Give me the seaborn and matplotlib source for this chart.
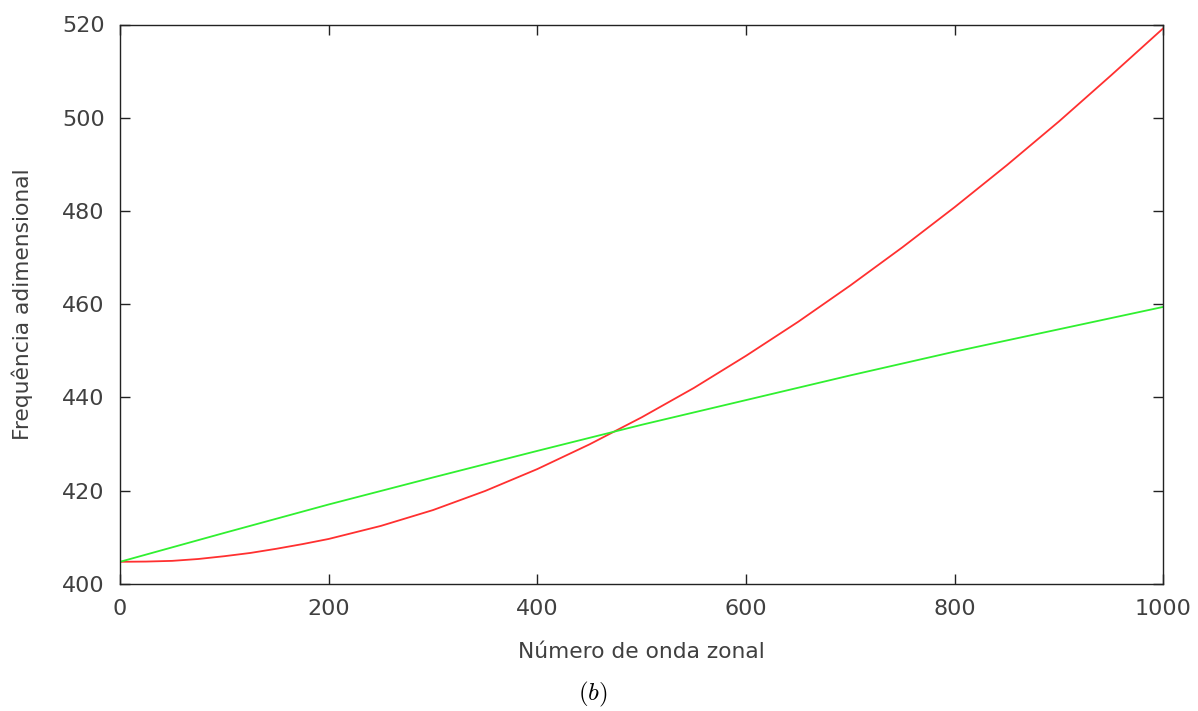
import numpy as np
import pandas as pd
import matplotlib
matplotlib.use("Agg")
import matplotlib.pyplot as plt
import seaborn as sns

# Data
k_red = [0, 25, 50, 75, 100, 125, 150, 175, 200, 250, 300, 350, 400, 450, 500,
         550, 600, 650, 700, 750, 800, 850, 900, 950, 1000]
freq_red = [404.7, 404.75, 404.9, 405.3, 405.9, 406.6, 407.5, 408.5, 409.6, 412.4, 415.8, 419.9,
            424.6, 429.9, 435.7, 442.0, 448.9, 456.2, 464.0, 472.2, 480.8, 489.8, 499.2, 509.1, 519.2]
k_green = [0, 100, 200, 300, 400, 500, 600, 700, 800, 900, 1000]
freq_green = [404.7, 410.9, 417.0, 422.8, 428.5, 434.1, 439.4, 444.7, 449.8, 454.6, 459.4]

x_ticks = [0, 200, 400, 600, 800, 1000]
y_ticks = [400, 420, 440, 460, 480, 500, 520]
x_label = "Número de onda zonal"
y_label = "Frequência adimensional"
caption = r"$(b)$"

sns.set_style("ticks")
plt.rcParams['font.family'] = ['DejaVu Sans']
plt.rcParams['mathtext.fontset'] = 'cm'

fig = plt.figure(figsize=(11.98, 7.11), dpi=100)
ax = fig.add_axes([120/1198, 1-583.7/711, (1163.3-120)/1198, (583.7-24.5)/711])

df_red = pd.DataFrame({"k": k_red, "f": freq_red})
df_green = pd.DataFrame({"k": k_green, "f": freq_green})
sns.lineplot(data=df_red, x="k", y="f", ax=ax, color="#ff3030", linewidth=1.3, sort=True)
sns.lineplot(data=df_green, x="k", y="f", ax=ax, color="#30f030", linewidth=1.3, sort=True)

ax.set_xlim(0, 1000)
ax.set_ylim(400, 520)
ax.set_xticks(x_ticks)
ax.set_yticks(y_ticks)
txtcol = "#404040"
ax.tick_params(axis='both', which='major', direction='in', length=7.5, width=1.0,
               top=True, right=True, labelsize=16, labelcolor=txtcol, color="#222222", pad=11)
for s in ax.spines.values():
    s.set_visible(True)
    s.set_color("#222222")
    s.set_linewidth(1.0)

ax.set_xlabel(x_label, fontsize=15.7, color=txtcol)
ax.set_ylabel(y_label, fontsize=15.7, color=txtcol)
ax.xaxis.set_label_coords(0.5, -(652-583.7)/559.2)
ax.xaxis.label.set_va('center')
ax.yaxis.set_label_coords(-(120-22)/1043.3, 0.5)
ax.yaxis.label.set_va('center')

fig.text(593/1198, 1-694/711, caption, fontsize=18, ha='center', va='center', color='black')

fig.savefig("out.png", dpi=100, facecolor='white')
